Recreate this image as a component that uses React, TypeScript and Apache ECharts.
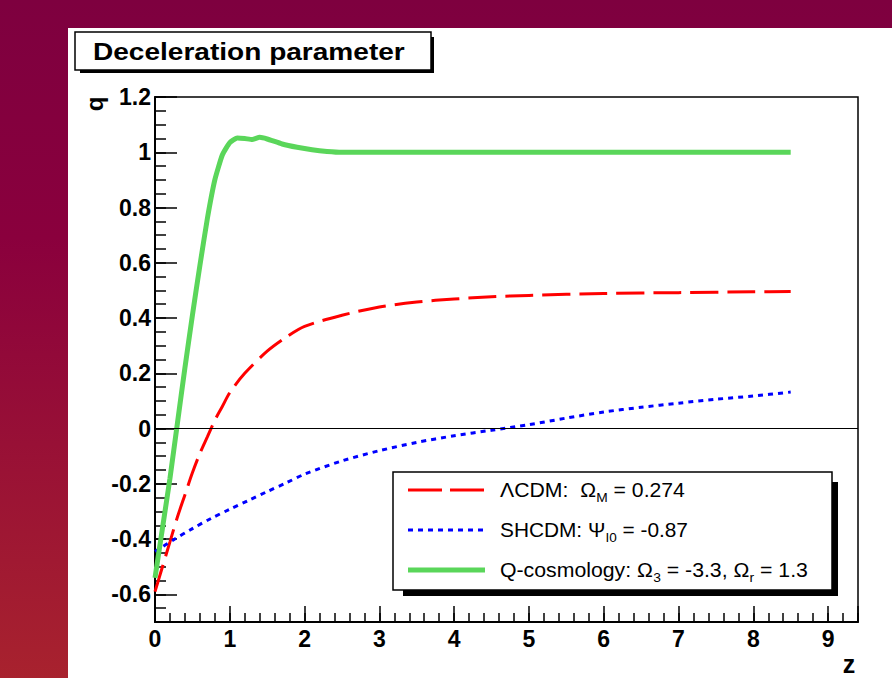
import React, { useEffect, useRef } from 'react';
import * as echarts from 'echarts';

// ΛCDM (Ω_M = 0.274)
const zLCDM = [0, 0.1, 0.2, 0.3, 0.4, 0.5, 0.6, 0.7, 0.8, 0.9, 1.0, 1.2, 1.5, 1.75, 2.0, 2.5, 3.0, 3.5, 4.0, 4.5, 5.0, 6.0, 7.0, 8.0, 8.5];
const qLCDM = [-0.59, -0.5, -0.41, -0.32, -0.24, -0.16, -0.09, -0.03, 0.03, 0.08, 0.13, 0.2, 0.28, 0.33, 0.37, 0.41, 0.44, 0.458, 0.469, 0.477, 0.482, 0.489, 0.492, 0.495, 0.496];

// SHCDM (Ψ_I0 = -0.87)
const zSHCDM = [0, 0.25, 0.5, 0.75, 1.0, 1.25, 1.5, 1.75, 2.0, 2.5, 3.0, 3.5, 4.0, 4.5, 5.0, 5.5, 6.0, 6.5, 7.0, 7.5, 8.0, 8.5];
const qSHCDM = [-0.445, -0.402, -0.362, -0.325, -0.292, -0.26, -0.228, -0.197, -0.165, -0.117, -0.08, -0.05, -0.026, -0.006, 0.014, 0.038, 0.06, 0.077, 0.092, 0.106, 0.118, 0.132];

// Q-cosmology (Ω_3 = -3.3, Ω_r = 1.3)
const zQ = [0, 0.1, 0.2, 0.3, 0.4, 0.5, 0.6, 0.7, 0.8, 0.9, 1.0, 1.1, 1.2, 1.3, 1.4, 1.5, 1.7, 1.9, 2.1, 2.3, 2.5, 3, 4, 5, 6, 7, 8, 8.5];
const qQ = [-0.54, -0.36, -0.18, 0.02, 0.22, 0.41, 0.59, 0.76, 0.9, 0.99, 1.035, 1.052, 1.05, 1.046, 1.054, 1.048, 1.03, 1.018, 1.009, 1.003, 1.0, 1.0, 1.0, 1.0, 1.0, 1.0, 1.0, 1.0];

const seriesNames = ['ΛCDM', 'SHCDM', 'Q-cosmology'];
const titleText = 'Deceleration parameter';
const xName = 'z';
const yName = 'q';

const FONT = '"Liberation Sans", Arial, Helvetica, sans-serif';

let measureCtx: CanvasRenderingContext2D | null = null;
function textWidth(t: string, size: number, bold = false): number {
  if (!measureCtx) measureCtx = document.createElement('canvas').getContext('2d');
  if (!measureCtx) return t.length * size * 0.55;
  measureCtx.font = `${bold ? 'bold ' : ''}${size}px ${FONT}`;
  return measureCtx.measureText(t).width;
}

type Seg = { t: string; sub?: boolean };

function legendText(x: number, y: number, segs: Seg[], targetW: number) {
  let cx = 0;
  const children: any[] = [];
  for (const s of segs) {
    const size = s.sub ? 13 : 20;
    children.push({
      type: 'text',
      x: cx,
      y: s.sub ? 8 : 0,
      z: 120,
      style: { text: s.t, fontSize: size, fontFamily: FONT, fill: '#000', align: 'left', verticalAlign: 'middle' },
    });
    cx += textWidth(s.t, size);
  }
  return { type: 'group', x, y, scaleX: targetW / cx, children, z: 120 };
}

export default function App() {
  const ref = useRef<HTMLDivElement>(null);
  useEffect(() => {
    document.body.style.margin = '0';
    const chart = echarts.init(ref.current!, null, { renderer: 'svg', width: 892, height: 678 });

    const titleW = textWidth(titleText, 23, true);
    const rowsY = [490, 530, 570];

    const graphic: any[] = [
      { type: 'rect', z: -10, silent: true, shape: { x: 68, y: 28, width: 824, height: 650 }, style: { fill: '#ffffff' } },
      // title box
      { type: 'rect', z: 100, shape: { x: 80, y: 37, width: 354, height: 36 }, style: { fill: '#000' } },
      { type: 'rect', z: 101, shape: { x: 75, y: 32, width: 356, height: 38 }, style: { fill: '#fff', stroke: '#000', lineWidth: 1.5 } },
      {
        type: 'text', z: 102, x: 93, y: 52, scaleX: 312 / titleW,
        style: { text: titleText, fontSize: 23, fontWeight: 'bold', fontFamily: FONT, fill: '#000', align: 'left', verticalAlign: 'middle' },
      },
      // legend box
      { type: 'rect', z: 100, shape: { x: 403, y: 482, width: 435, height: 114 }, style: { fill: '#000' } },
      { type: 'rect', z: 101, shape: { x: 393, y: 472, width: 439, height: 118 }, style: { fill: '#fff', stroke: '#000', lineWidth: 1.5 } },
      { type: 'line', z: 102, shape: { x1: 408, y1: rowsY[0], x2: 485, y2: rowsY[0] }, style: { stroke: '#ff0000', lineWidth: 3, lineDash: [34, 8] } },
      { type: 'line', z: 102, shape: { x1: 408, y1: rowsY[1], x2: 485, y2: rowsY[1] }, style: { stroke: '#0000ff', lineWidth: 3, lineDash: [5, 5] } },
      { type: 'line', z: 102, shape: { x1: 408, y1: rowsY[2], x2: 485, y2: rowsY[2] }, style: { stroke: '#5ad65a', lineWidth: 5 } },
      legendText(500, rowsY[0], [{ t: 'ΛCDM:  Ω' }, { t: 'M', sub: true }, { t: ' = 0.274' }], 185),
      legendText(500, rowsY[1], [{ t: 'SHCDM: Ψ' }, { t: 'I0', sub: true }, { t: ' = -0.87' }], 188),
      legendText(500, rowsY[2], [{ t: 'Q-cosmology: Ω' }, { t: '3', sub: true }, { t: ' = -3.3, Ω' }, { t: 'r', sub: true }, { t: ' = 1.3' }], 308),
      // axis titles
      {
        type: 'text', z: 102, x: 94, y: 104, rotation: Math.PI / 2,
        style: { text: yName, fontSize: 24, fontWeight: 'bold', fontFamily: FONT, fill: '#000', align: 'center', verticalAlign: 'middle' },
      },
      {
        type: 'text', z: 102, x: 849, y: 664,
        style: { text: xName, fontSize: 25, fontWeight: 'bold', fontFamily: FONT, fill: '#000', align: 'center', verticalAlign: 'middle' },
      },
    ];

    const labelStyle = { fontSize: 23, fontWeight: 'bold', color: '#000', fontFamily: FONT };

    const option: any = {
      animation: false,
      grid: { left: 155, top: 97, width: 703, height: 525, show: true, borderColor: '#000', borderWidth: 1.5, backgroundColor: 'transparent' },
      xAxis: [
        {
          type: 'value', min: 0, max: 9.4, interval: 1, position: 'bottom',
          axisLine: { show: true, onZero: false, lineStyle: { color: '#000', width: 2 } },
          axisTick: { show: true, inside: true, length: 16, lineStyle: { color: '#000', width: 1.5 } },
          axisLabel: {
            ...labelStyle, margin: 5, showMaxLabel: true, showMinLabel: true,
            formatter: (v: number) => (Math.abs(v - Math.round(v)) < 1e-6 ? String(Math.round(v)) : ''),
          },
          splitLine: { show: false },
        },
        {
          type: 'value', min: 0, max: 9.4, interval: 0.2, position: 'bottom',
          axisLine: { show: false, onZero: false },
          axisTick: { show: true, inside: true, length: 9, lineStyle: { color: '#000', width: 1.5 } },
          axisLabel: { show: false },
          splitLine: { show: false },
        },
      ],
      yAxis: [
        {
          type: 'value', min: -0.7, max: 1.2, splitNumber: 10, position: 'left',
          axisLine: { show: true, onZero: false, lineStyle: { color: '#000', width: 2 } },
          axisTick: { show: true, inside: true, length: 22, lineStyle: { color: '#000', width: 1.5 } },
          axisLabel: {
            ...labelStyle, margin: 4, showMaxLabel: true, showMinLabel: true,
            formatter: (v: number) => {
              const k = v * 5;
              if (Math.abs(k - Math.round(k)) > 1e-6) return '';
              return String(Math.round(v * 10) / 10);
            },
          },
          splitLine: { show: false },
        },
        {
          type: 'value', min: -0.7, max: 1.2, interval: 0.05, position: 'left',
          axisLine: { show: false, onZero: false },
          axisTick: { show: true, inside: true, length: 11, lineStyle: { color: '#000', width: 1.5 } },
          axisLabel: { show: false },
          splitLine: { show: false },
        },
      ],
      graphic,
      series: [
        {
          type: 'line', name: seriesNames[0], xAxisIndex: 0, yAxisIndex: 0,
          data: zLCDM.map((z, i) => [z, qLCDM[i]]),
          symbol: 'none', showSymbol: false, smooth: 0.3,
          lineStyle: { color: '#ff0000', width: 3, type: [28, 9] },
          markLine: {
            silent: true, symbol: 'none', label: { show: false },
            lineStyle: { color: '#000', type: 'solid', width: 1 },
            data: [{ yAxis: 0 }],
          },
        },
        {
          type: 'line', name: seriesNames[1], xAxisIndex: 0, yAxisIndex: 0,
          data: zSHCDM.map((z, i) => [z, qSHCDM[i]]),
          symbol: 'none', showSymbol: false, smooth: 0.3,
          lineStyle: { color: '#0000ff', width: 3, type: [5, 5] },
        },
        {
          type: 'line', name: seriesNames[2], xAxisIndex: 0, yAxisIndex: 0,
          data: zQ.map((z, i) => [z, qQ[i]]),
          symbol: 'none', showSymbol: false, smooth: 0.15,
          lineStyle: { color: '#5ad65a', width: 5 },
        },
      ],
    };
    chart.setOption(option);
    return () => chart.dispose();
  }, []);
  return (
    <div
      ref={ref}
      style={{
        position: 'absolute', left: 0, top: 0, width: 892, height: 678,
        background: 'linear-gradient(180deg, #7e003f 0%, #8a003d 35%, #a8222e 100%)',
      }}
    />
  );
}
